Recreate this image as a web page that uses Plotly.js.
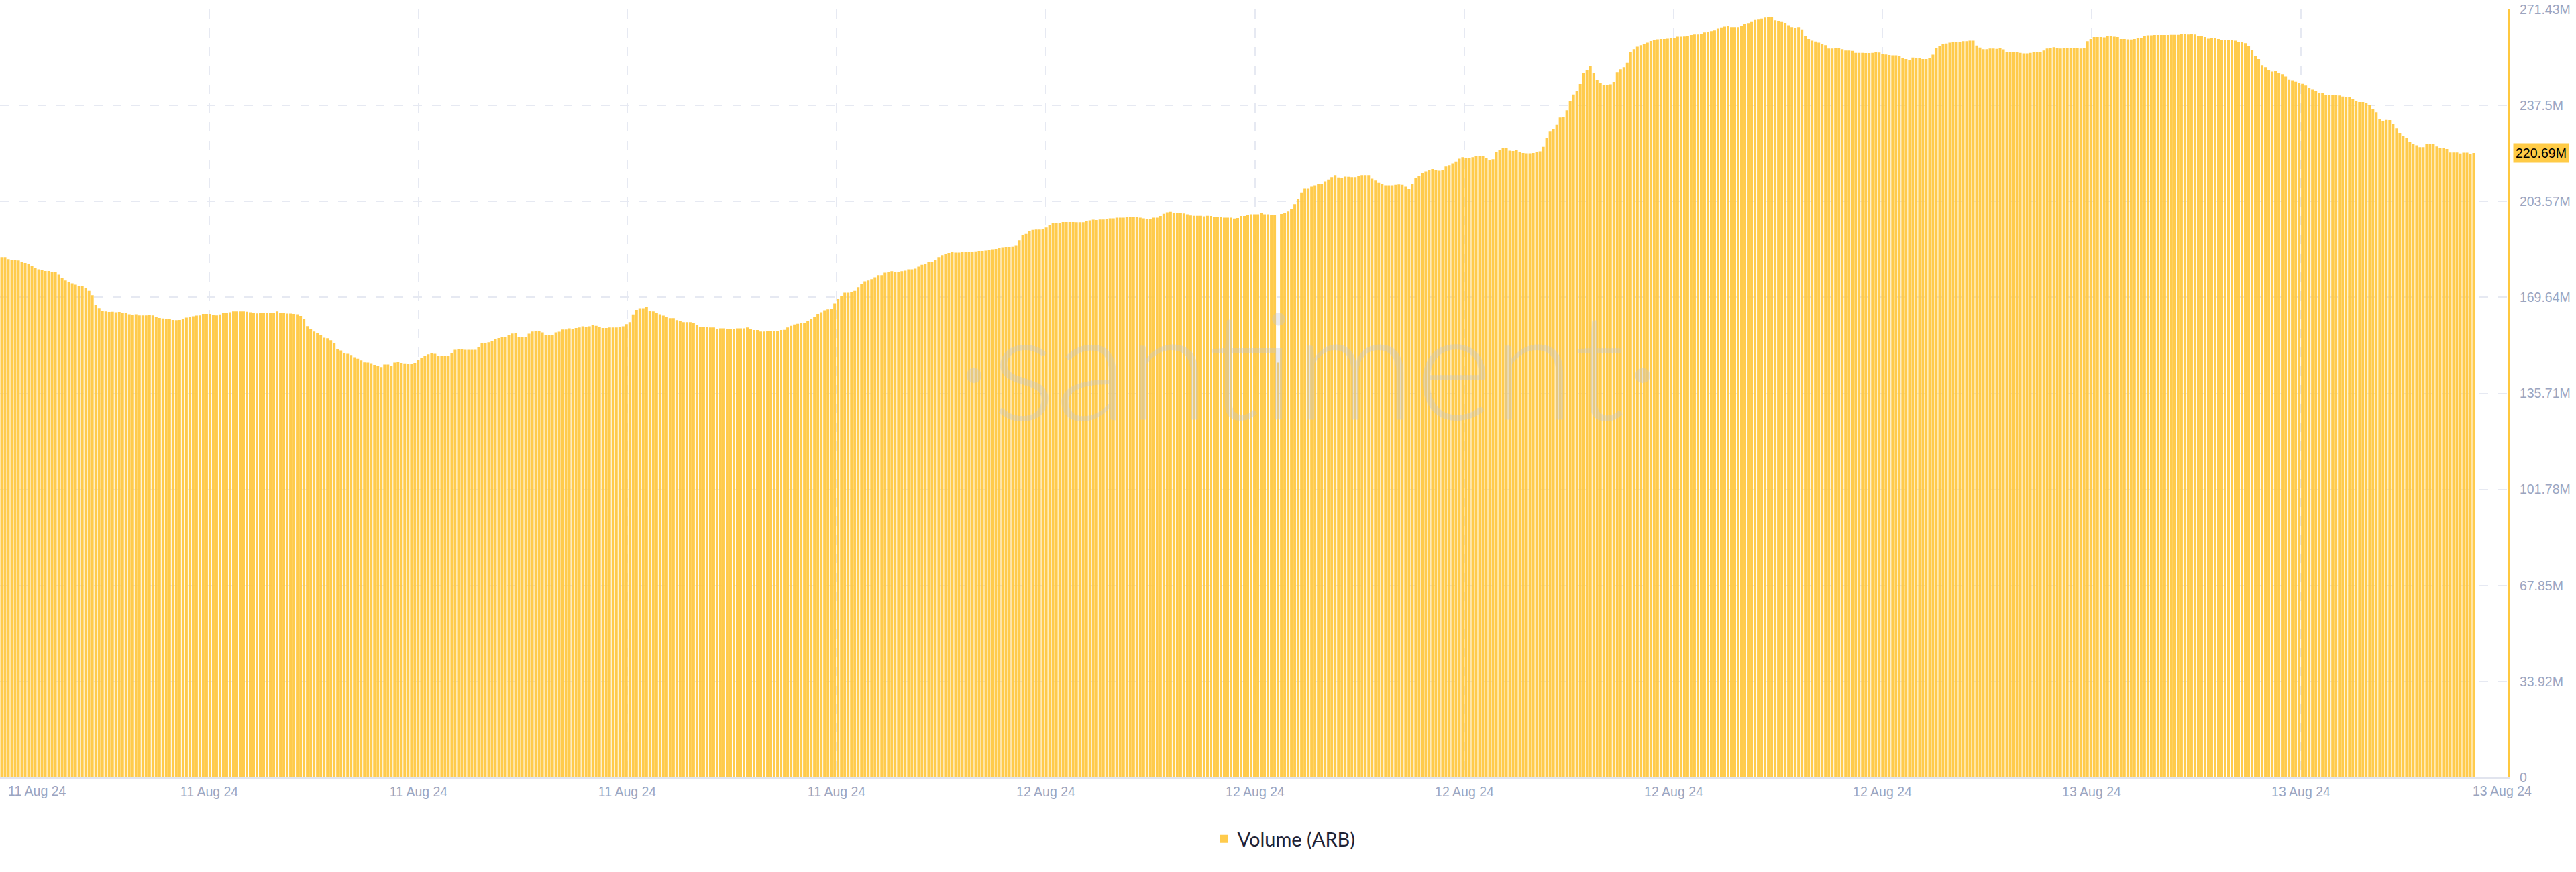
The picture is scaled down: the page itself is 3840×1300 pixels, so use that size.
<!DOCTYPE html>
<html>
<head>
<meta charset="utf-8">
<script src="https://cdn.plot.ly/plotly-3.0.1.min.js"></script>
<style>
html,body{margin:0;padding:0;background:#ffffff;}
#chart{width:3840px;height:1300px;}
</style>
</head>
<body>
<div id="chart"></div>
<script>
// ---------------- DATA ----------------
const seriesName = 'Volume (ARB)';

// Volume in millions of ARB, one value per bar (left to right)
const volumePart1 = [
183.9,183.9,183.2,182.9,182.9,182.7,182.3,181.8,181.4,180.8,
180.1,179.6,179.2,179.0,179.0,178.7,178.7,177.7,176.6,175.6,
175.2,174.6,174.1,173.6,173.6,172.9,171.9,170.4,166.9,165.9,
164.9,164.7,164.5,164.6,164.4,164.5,164.3,164.2,163.7,163.5,
163.7,163.3,163.3,163.3,163.5,163.3,162.7,162.4,162.2,161.9,
161.9,161.7,161.6,161.7,162.0,162.5,162.8,163.0,163.2,163.3,
163.8,163.8,163.8,163.5,163.3,163.6,164.2,164.3,164.4,164.7,
164.7,164.7,164.7,164.6,164.4,164.2,164.0,164.3,164.3,164.3,
164.1,164.3,164.7,164.2,164.2,163.9,163.9,163.8,163.7,163.1,
162.1,159.5,158.4,157.6,157.1,156.4,155.4,155.2,154.5,153.4,
151.5,150.9,150.0,149.7,149.3,148.5,148.0,147.4,146.7,146.6,
146.4,145.8,145.4,145.0,145.9,145.9,145.5,146.6,146.9,146.5,
146.3,146.2,146.1,146.5,147.6,148.2,148.9,149.5,150.0,149.7,
149.1,148.9,148.9,148.9,149.8,151.1,151.4,151.4,151.1,151.1,
151.1,151.1,152.1,153.4,153.4,153.8,154.3,154.9,155.3,155.6,
155.6,156.4,156.9,157.0
];
const volumePart2 = [
155.7,155.6,155.7,156.8,157.6,157.9,157.9,157.3,156.3,156.2,
156.4,157.3,157.5,158.3,158.3,158.7,158.6,158.8,159.0,159.4,
159.2,159.4,159.9,159.6,159.1,158.8,158.8,159.0,159.0,159.0,
159.1,159.4,160.2,160.9,163.6,165.2,165.8,165.8,166.3,164.8,
164.7,164.2,163.7,163.2,162.7,162.3,162.3,161.6,161.3,160.9,
160.9,160.9,160.5,159.8,159.1,159.2,159.1,159.0,159.0,158.5,
158.7,158.7,158.6,158.6,158.6,158.7,158.7,158.7,159.0,158.4,
158.1,158.1,157.6,157.6,157.8,157.8,157.9,157.9,158.1,158.2,
159.0,159.6,160.1,160.3,160.7,160.7,161.3,162.0,162.8,163.8,
164.4,165.1,165.4,165.7,167.5,169.0,170.2,171.3,171.3,171.4,
171.9,173.2,174.5,175.3,175.6,176.1,176.7,177.5,177.5,178.4,
178.5,178.9,178.7,178.6,178.9,179.1,179.6,179.6,179.8,180.5,
181.2,181.6,182.2,182.2,182.9,183.9,184.6,185.0,185.4,185.7,
185.5,185.5,185.7,185.7,185.7,185.8,185.9,186.1,186.1,186.2,
186.5,186.7,186.8,187.1,187.4,187.5,187.5,187.6,188.1,189.8,
191.6,192.1,193.0,193.5
];
const volumePart3 = [
193.6,193.6,193.7,194.3,195.1,195.9,195.9,196.0,196.3,196.3,
196.3,196.3,196.2,196.2,196.2,196.6,196.9,197.1,197.0,197.2,
197.2,197.4,197.6,197.6,197.8,197.8,197.8,198.0,198.2,198.2,
198.0,197.8,197.6,197.4,197.4,197.8,197.8,198.4,199.2,199.7,
199.9,199.6,199.6,199.5,199.3,199.0,198.6,198.5,198.5,198.5,
198.3,198.5,198.4,198.1,198.1,198.2,197.8,197.8,197.8,197.5,
197.7,198.4,198.4,198.8,199.0,199.0,199.0,199.6,199.0,199.0,
198.9,198.9,146.6,199.1,199.4,200.0,200.9,202.6,204.5,206.8,
208.0,208.0,208.7,209.2,209.6,209.8,210.6,211.3,212.1,212.8,
212.0,211.8,212.3,212.2,212.1,212.1,212.5,212.8,212.8,212.8,
211.6,210.9,210.1,209.6,209.2,209.2,209.2,209.4,209.5,209.4,
208.7,207.9,209.7,211.8,212.5,213.6,214.2,214.7,215.0,214.7,
214.4,214.7,215.9,216.4,217.0,217.7,218.7,219.2,218.9,219.0,
219.2,219.5,219.6,219.7,219.0,218.3,218.5,221.0,221.8,222.5,
222.6,221.5,221.4,221.8,221.1,220.7,220.6,220.6,220.7,221.1,
221.3,222.9,226.0,228.2
];
const volumePart4 = [
229.1,230.7,233.2,233.5,235.8,239.2,241.4,242.7,245.1,248.9,
250.1,251.5,248.9,246.5,245.6,244.9,244.8,245.0,245.8,249.1,
250.3,251.0,252.5,256.3,257.4,258.3,258.8,259.2,259.7,260.3,
260.7,260.9,261.0,261.0,261.1,261.4,261.4,261.8,261.8,261.9,
262.1,262.4,262.6,262.6,262.9,263.3,263.5,263.8,264.0,264.7,
265.1,265.4,265.5,265.2,265.2,265.2,265.5,266.2,266.4,267.0,
267.7,267.8,268.2,268.5,268.7,268.6,267.6,267.3,267.0,266.5,
265.6,265.2,265.0,265.2,264.4,262.1,261.0,260.4,260.1,259.7,
259.1,258.8,257.6,257.6,257.8,257.8,257.4,256.9,256.9,256.8,
256.1,256.1,256.1,256.0,256.0,256.1,256.4,256.2,255.8,255.5,
255.3,255.2,255.2,255.0,254.3,253.9,253.6,254.4,254.1,254.1,
253.9,253.9,254.1,255.4,257.9,258.5,259.1,259.4,259.7,259.8,
259.9,259.9,260.2,260.2,260.4,260.4,258.7,258.0,257.4,257.4,
257.6,257.6,257.5,257.7,257.3,256.5,256.4,256.4,256.3,256.1,
255.9,255.9,256.1,256.3,256.4,256.4,256.9,257.6,257.8,258.1,
257.8,257.6,257.7,257.8
];
const volumePart5 = [
257.8,257.8,257.8,257.6,257.9,260.2,261.0,261.7,261.7,261.7,
261.6,262.1,262.1,261.8,261.7,261.0,261.0,260.9,260.8,261.0,
261.3,261.4,262.1,262.3,262.3,262.4,262.4,262.4,262.4,262.4,
262.5,262.5,262.5,262.8,262.8,262.6,262.7,262.6,262.1,262.1,
261.7,261.1,261.4,261.3,261.0,260.5,260.5,260.7,260.5,260.4,
260.0,260.0,259.5,258.4,257.2,255.1,253.9,251.7,251.0,250.1,
249.5,249.6,248.9,248.4,247.6,246.6,246.2,245.9,245.6,245.2,
244.6,243.7,243.1,242.6,242.0,241.8,241.3,241.2,241.2,241.1,
241.0,240.7,240.6,240.4,239.8,239.2,238.7,238.7,238.4,237.6,
236.3,235.1,232.7,232.0,232.4,232.3,230.9,229.4,227.8,226.6,
226.0,224.7,224.0,223.4,222.8,222.8,223.8,223.8,223.8,223.0,
222.6,222.6,222.1,220.9,220.9,220.9,220.5,220.8,220.8,220.4,
220.69
];

// Axis tick labels
const yTickLabels = ['0','33.92M','67.85M','101.78M','135.71M','169.64M','203.57M','237.5M','271.43M'];
const yAxisMax = 271.43; // millions
const xGridTickLabels = ['11 Aug 24','11 Aug 24','11 Aug 24','11 Aug 24',
                         '12 Aug 24','12 Aug 24','12 Aug 24','12 Aug 24','12 Aug 24',
                         '13 Aug 24','13 Aug 24'];
const xEdgeTickLabels = ['11 Aug 24','13 Aug 24'];

// ---------------- CHART ----------------
const volume = [].concat(volumePart1, volumePart2, volumePart3, volumePart4, volumePart5);
const N = volume.length;
const xIndex = volume.map((_, i) => i);

// layout geometry (pixels of the 3840x1300 picture)
const PLOT_W = 3739;      // plot area width (left edge at 0)
const BARS_W = 3690;      // bars occupy this much of it
const pxToX = p => -0.5 + p * N / BARS_W;
const gridPx = [0, 312, 624, 935, 1247, 1559, 1871, 2183, 2495, 2806, 3118, 3430];
const xTickVals = gridPx.map(pxToX);
const xTickText = [''].concat(xGridTickLabels);
const edgePx = [55, 3730];

const yTickVals = yTickLabels.map((_, i) => i * yAxisMax / 8);

const tickFont = {family: 'Liberation Sans, Arial, sans-serif', size: 19.5, color: '#9aa5c1'};
const gridColor = '#e6e9f2';

const lastVal = volume[N - 1];

const trace = {
  type: 'bar',
  name: seriesName,
  x: xIndex,
  y: volume,
  marker: {color: 'rgba(255,199,62,0.93)', line: {width: 0}},
  hoverinfo: 'skip',
  showlegend: true
};

const annotations = [
  // watermark
  {
    text: '·santiment·', xref: 'paper', yref: 'paper',
    x: 1950 / PLOT_W, y: 0.541, xanchor: 'center', yanchor: 'middle',
    showarrow: false,
    font: {family: 'Lato, Noto Sans, sans-serif', size: 222, weight: 300, color: 'rgba(192,196,214,0.36)'}
  },
  // current value badge on the right axis
  {
    text: lastVal.toFixed(2) + 'M', xref: 'paper', yref: 'y',
    x: 1, y: lastVal, xanchor: 'left', yanchor: 'middle', xshift: 7,
    showarrow: false, bgcolor: '#FFCB47', borderpad: 3,
    font: {family: 'Liberation Sans, Arial, sans-serif', size: 19.5, color: '#000000'}
  }
];
edgePx.forEach((p, i) => {
  annotations.push({
    text: xEdgeTickLabels[i], xref: 'x', yref: 'paper',
    x: pxToX(p), y: 0, xanchor: 'center', yanchor: 'top', yshift: -7,
    showarrow: false, font: tickFont
  });
});

const layout = {
  width: 3840, height: 1300,
  paper_bgcolor: '#ffffff', plot_bgcolor: '#ffffff',
  margin: {l: 0, r: 3840 - PLOT_W, t: 14, b: 141, pad: 0},
  bargap: 0.2,
  showlegend: true,
  legend: {
    orientation: 'h', x: 1915 / PLOT_W, xanchor: 'center',
    y: -0.0803, yanchor: 'middle',
    font: {family: 'Lato, Noto Sans, sans-serif', size: 29, color: '#1e2235'},
    bgcolor: 'rgba(0,0,0,0)'
  },
  xaxis: {
    range: [-0.5, -0.5 + N * PLOT_W / BARS_W],
    tickmode: 'array', tickvals: xTickVals, ticktext: xTickText,
    showgrid: true, gridcolor: gridColor, gridwidth: 2, griddash: '14px,14px',
    zeroline: false,
    showline: true, linecolor: '#e1e4ee', linewidth: 2,
    ticks: '', ticklabelstandoff: 3,
    tickfont: tickFont, fixedrange: true
  },
  yaxis: {
    side: 'right',
    range: [0, yAxisMax],
    tickmode: 'array', tickvals: yTickVals, ticktext: yTickLabels,
    showgrid: true, gridcolor: gridColor, gridwidth: 2, griddash: '13px,15px',
    zeroline: false,
    showline: true, linecolor: '#FFC83F', linewidth: 2,
    ticks: '', ticklabelstandoff: 11,
    tickfont: tickFont, fixedrange: true
  },
  annotations: annotations
};

Plotly.newPlot('chart', [trace], layout, {staticPlot: true, displayModeBar: false});
</script>
</body>
</html>
